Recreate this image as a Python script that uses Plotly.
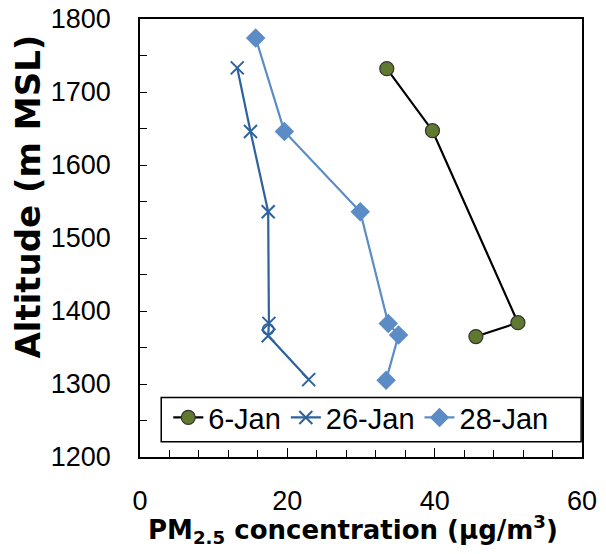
import plotly.graph_objects as go

# Data
jan6_x = [33.5, 39.7, 51.3, 45.6]
jan6_y = [1732, 1647, 1384, 1365]

jan26_x = [13.2, 15.0, 17.4, 17.5, 17.4, 22.9]
jan26_y = [1733, 1646, 1536, 1383, 1366, 1306]
jan26_extra_x = [17.4]
jan26_extra_y = [1375]

jan28_x = [15.7, 19.6, 29.9, 33.7, 35.1, 33.4]
jan28_y = [1774, 1646, 1536, 1383, 1367, 1305]

series_names = ["6-Jan", "26-Jan", "28-Jan"]
x_title = "<b>PM<sub>2.5</sub> concentration (µg/m<sup>3</sup>)</b>"
y_title = "<b>Altitude (m MSL)</b>"

FONT = "Liberation Sans, Arial, sans-serif"
TFONT = "DejaVu Sans, sans-serif"
C6 = "#5f7a2e"
C26 = "#2d629e"
C28 = "#5b8cc6"

fig = go.Figure()
fig.add_trace(go.Scatter(
    x=jan6_x, y=jan6_y, name=series_names[0], mode="lines+markers",
    line=dict(color="black", width=2.2),
    marker=dict(symbol="circle", size=14, color=C6, line=dict(color="#333333", width=1.2)),
))
fig.add_trace(go.Scatter(
    x=jan26_x, y=jan26_y, name=series_names[1], mode="lines+markers",
    line=dict(color=C26, width=2.2),
    marker=dict(symbol="x-thin", size=13, color=C26, line=dict(color=C26, width=2)),
))
fig.add_trace(go.Scatter(
    x=jan26_extra_x, y=jan26_extra_y, name=series_names[1], mode="markers", showlegend=False,
    marker=dict(symbol="circle-open", size=11, color=C26, line=dict(color=C26, width=1.5)),
))
fig.add_trace(go.Scatter(
    x=jan28_x, y=jan28_y, name=series_names[2], mode="lines+markers",
    line=dict(color=C28, width=2.2),
    marker=dict(symbol="diamond", size=15, color=C28, line=dict(color=C28, width=0)),
))

fig.update_layout(
    width=606, height=554,
    margin=dict(l=140, r=24, t=19, b=97),
    paper_bgcolor="white", plot_bgcolor="white",
    font=dict(family=FONT, size=27, color="black"),
    showlegend=True,
    legend=dict(
        orientation="h", x=0.064, y=0.09, xanchor="left", yanchor="middle",
        bgcolor="rgba(0,0,0,0)", borderwidth=0,
        font=dict(family=FONT, size=29, color="black"),
        itemwidth=30, tracegroupgap=0,
    ),
    shapes=[dict(type="rect", xref="paper", yref="paper", x0=0.048, x1=0.998, y0=0.035, y1=0.136,
                 line=dict(color="black", width=1.5), fillcolor="rgba(0,0,0,0)")],
    annotations=[
        dict(text=x_title, xref="paper", yref="paper", x=0.481, y=-0.166,
             xanchor="center", yanchor="middle", showarrow=False,
             font=dict(family=TFONT, size=26, color="black")),
        dict(text=y_title, xref="paper", yref="paper", x=-0.253, y=0.595,
             xanchor="center", yanchor="middle", showarrow=False, textangle=-90,
             font=dict(family=TFONT, size=34, color="black")),
    ],
)

fig.update_xaxes(
    range=[0, 60], tickmode="linear", tick0=0, dtick=20,
    ticks="inside", ticklen=9, tickwidth=1, tickcolor="black",
    minor=dict(dtick=4, ticks="inside", ticklen=7, tickcolor="black", tickwidth=1),
    showgrid=False, zeroline=False, automargin=False,
    showline=True, linecolor="black", linewidth=1.5, mirror=True,
    tickfont=dict(family=FONT, size=27),
    ticklabelstandoff=19,
)
fig.update_yaxes(
    range=[1200, 1800], tickmode="linear", tick0=1200, dtick=100,
    ticks="inside", ticklen=7, tickwidth=1, tickcolor="black",
    minor=dict(dtick=50, ticks="inside", ticklen=7, tickcolor="black", tickwidth=1),
    showgrid=False, zeroline=False, automargin=False,
    showline=True, linecolor="black", linewidth=1.5, mirror=True,
    tickfont=dict(family=FONT, size=27),
    ticklabelstandoff=22,
)

fig.write_html("out.html", config={"displayModeBar": False},
               post_script="document.body.style.margin='0';")
